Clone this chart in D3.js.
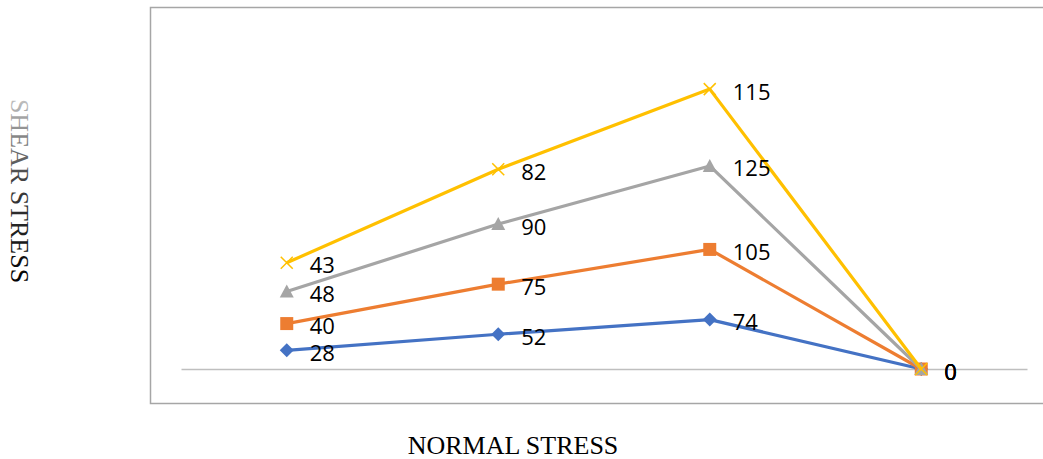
<!DOCTYPE html>
<html>
<head>
<meta charset="utf-8">
<script src="https://cdn.jsdelivr.net/npm/d3@7"></script>
<style>
  html, body { margin: 0; padding: 0; background: #fff; }
  svg { display: block; }
</style>
</head>
<body>
<svg id="chart" width="1043" height="459"></svg>
<script>
// Four loading stages, each series stacked on the one below it
const categories = ["1", "2", "3", "4"];
const seriesNames = ["S1", "S2", "S3", "S4"];
const s1 = [28, 52, 74, 0];
const s2 = [40, 75, 105, 0];
const s3 = [48, 90, 125, 0];
const s4 = [43, 82, 115, 0];
const colors = ["#4472C4", "#ED7D31", "#A5A5A5", "#FFC000"];
const markers = ["diamond", "square", "triangle", "cross"];
const xTitle = "NORMAL STRESS";
const yTitle = "SHEAR STRESS";

const svg = d3.select("#chart");

// chart frame (right edge runs off the canvas)
svg.append("path")
  .attr("d", "M1045,7.5 H150.5 V403.5 H1045")
  .attr("fill", "none")
  .attr("stroke", "#a6a6a6")
  .attr("stroke-width", 1.5);

const plot = { left: 181, right: 1027, bottom: 369, top: 35 };

const x = d3.scalePoint().domain(categories).range([plot.left, plot.right]).padding(0.5);
const y = d3.scaleLinear().domain([0, 500]).range([plot.bottom, plot.top]);

// horizontal axis line at zero
const xAxis = d3.axisBottom(x).tickSize(0).tickFormat(() => "");
const gx = svg.append("g").attr("transform", `translate(0,${y(0)})`).call(xAxis);
gx.select(".domain").attr("stroke", "#bfbfbf").attr("stroke-width", 1.5);

// stacked data
const table = categories.map((c, i) => ({ cat: c, S1: s1[i], S2: s2[i], S3: s3[i], S4: s4[i] }));
const stacked = d3.stack().keys(seriesNames)(table);

const line = d3.line().x(d => x(d.data.cat)).y(d => y(d[1]));

// marker shapes
const markerPath = {
  diamond: "M0,-7 L7,0 L0,7 L-7,0 Z",
  square: "M-6.5,-6.5 H6.5 V6.5 H-6.5 Z",
  triangle: "M0,-7 L7,6 L-7,6 Z",
  cross: "M-6,-6 L6,6 M6,-6 L-6,6"
};

const raw = [s1, s2, s3, s4];

stacked.forEach((layer, si) => {
  const g = svg.append("g");
  g.append("path")
    .datum(layer)
    .attr("d", line)
    .attr("fill", "none")
    .attr("stroke", colors[si])
    .attr("stroke-width", 3.2)
    .attr("stroke-linejoin", "round");

  g.selectAll("path.mk")
    .data(layer)
    .join("path")
    .attr("class", "mk")
    .attr("transform", d => `translate(${x(d.data.cat)},${y(d[1])})`)
    .attr("d", markerPath[markers[si]])
    .attr("fill", markers[si] === "cross" ? "none" : colors[si])
    .attr("stroke", colors[si])
    .attr("stroke-width", markers[si] === "cross" ? 1.5 : 0);
});

// value labels, right of each point
stacked.forEach((layer, si) => {
  svg.append("g").selectAll("text")
    .data(layer)
    .join("text")
    .attr("x", d => x(d.data.cat) + 23)
    .attr("y", d => y(d[1]) + 1.5)
    .attr("dominant-baseline", "central")
    .attr("font-family", "'Open Sans', sans-serif")
    .attr("font-size", 22)
    .attr("fill", "#000")
    .text((d, i) => raw[si][i]);
});

// axis titles
svg.append("text")
  .attr("x", 513)
  .attr("y", 454)
  .attr("text-anchor", "middle")
  .attr("font-family", "'Liberation Serif', 'Times New Roman', serif")
  .attr("font-size", 26)
  .attr("fill", "#000")
  .text(xTitle);

const defs = svg.append("defs");
const grad = defs.append("linearGradient")
  .attr("id", "ytitleGrad")
  .attr("gradientUnits", "userSpaceOnUse")
  .attr("x1", -94).attr("y1", 0).attr("x2", 94).attr("y2", 0);
grad.append("stop").attr("offset", 0).attr("stop-color", "#c4c4c4");
grad.append("stop").attr("offset", 0.45).attr("stop-color", "#404040");
grad.append("stop").attr("offset", 1).attr("stop-color", "#000");

svg.append("text")
  .attr("transform", "translate(11,191) rotate(90)")
  .attr("text-anchor", "middle")
  .attr("font-family", "'Liberation Serif', 'Times New Roman', serif")
  .attr("font-size", 26)
  .attr("fill", "url(#ytitleGrad)")
  .text(yTitle);
</script>
</body>
</html>
